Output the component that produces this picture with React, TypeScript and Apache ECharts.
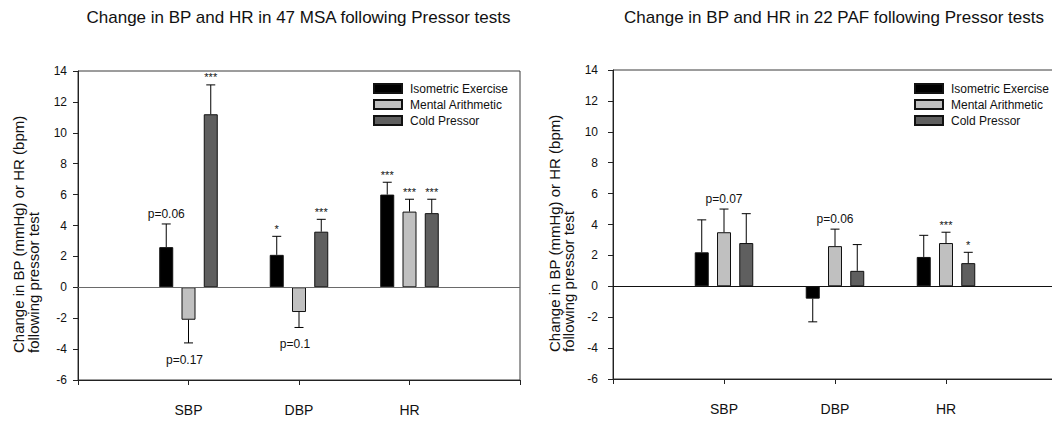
import React, { useEffect, useRef } from 'react';
import * as echarts from 'echarts';

// Measured variables and the three pressor tests
const groups = ['SBP', 'DBP', 'HR'];
const treatments = ['Isometric Exercise', 'Mental Arithmetic', 'Cold Pressor'];
const treatmentColors = ['#000000', '#c0c0c0', '#5f5f5f'];

// MSA cohort (n = 47): mean change and SEM per variable
const msaIsometricMean = [2.6, 2.1, 6.0];
const msaIsometricSem = [1.5, 1.2, 0.8];
const msaMentalMean = [-2.1, -1.6, 4.9];
const msaMentalSem = [1.5, 1.0, 0.8];
const msaColdMean = [11.2, 3.6, 4.8];
const msaColdSem = [1.9, 0.8, 0.9];
const msaIsometricSig = ['p=0.06', '*', '***'];
const msaMentalSig = ['p=0.17', 'p=0.1', '***'];
const msaColdSig = ['***', '***', '***'];

// PAF cohort (n = 22): mean change and SEM per variable
const pafIsometricMean = [2.2, -0.8, 1.9];
const pafIsometricSem = [2.1, 1.5, 1.4];
const pafMentalMean = [3.5, 2.6, 2.8];
const pafMentalSem = [1.5, 1.1, 0.7];
const pafColdMean = [2.8, 1.0, 1.5];
const pafColdSem = [1.9, 1.7, 0.7];
const pafIsometricSig = ['', '', ''];
const pafMentalSig = ['p=0.07', 'p=0.06', '***'];
const pafColdSig = ['', '', '*'];

// Y axis range and step
const yMin = -6;
const yMax = 14;
const yStep = 2;

const FONT = '"Liberation Sans", Arial, Helvetica, sans-serif';
const TEXT = '#111111';
const BAR_W = 14;
const BAR_GAP = 0.59;
const BAR_STEP = BAR_W * (1 + BAR_GAP);

const VIEW_W = 1052;
const VIEW_H = 421;

const yName = 'Change in BP (mmHg) or HR (bpm)\nfollowing pressor test';

// Each panel gets its own chart instance; the right one is wider than the
// visible page so its plot area runs past the edge and is cut off there.
const panels = [
  {
    title: 'Change in BP and HR in 47 MSA following Pressor tests',
    means: [msaIsometricMean, msaMentalMean, msaColdMean],
    sems: [msaIsometricSem, msaMentalSem, msaColdSem],
    sigs: [msaIsometricSig, msaMentalSig, msaColdSig],
    offsetX: 0,
    canvasWidth: 526,
    grid: { left: 78, top: 71, width: 442, height: 309 },
    titleX: 298.5,
    legendLeft: 373,
    nameX: 25.5,
    nameY: 353,
    nameLineHeight: 15,
    labelMargin: 11,
    zeroColor: '#6a6a6a',
  },
  {
    title: 'Change in BP and HR in 22 PAF following Pressor tests',
    means: [pafIsometricMean, pafMentalMean, pafColdMean],
    sems: [pafIsometricSem, pafMentalSem, pafColdSem],
    sigs: [pafIsometricSig, pafMentalSig, pafColdSig],
    offsetX: 526,
    canvasWidth: 620,
    grid: { left: 613, top: 70, width: 444, height: 309 },
    titleX: 834,
    legendLeft: 914,
    nameX: 561.5,
    nameY: 352,
    nameLineHeight: 14,
    labelMargin: 15,
    zeroColor: '#111111',
  },
];

type Panel = (typeof panels)[number];

function errorSeries(panel: Panel, k: number) {
  const means = panel.means[k];
  const sems = panel.sems[k];
  const sigs = panel.sigs[k];
  return {
    type: 'custom',
    z: 5,
    silent: true,
    clip: false,
    data: means.map((m, i) => [i + 1, m, sems[i]]),
    renderItem: (params: any, api: any) => {
      const i = params.dataIndex;
      const cat = api.value(0);
      const m = api.value(1);
      const s = api.value(2);
      const dir = m >= 0 ? 1 : -1;
      const base = api.coord([cat, m]);
      const tip = api.coord([cat, m + dir * s]);
      const x = base[0] + (k - 1) * BAR_STEP;
      const stroke = { stroke: '#000', lineWidth: 1 };
      const children: any[] = [
        { type: 'line', shape: { x1: x, y1: base[1], x2: x, y2: tip[1] }, style: stroke },
        { type: 'line', shape: { x1: x - 4.5, y1: tip[1], x2: x + 4.5, y2: tip[1] }, style: stroke },
      ];
      const sig = sigs[i];
      if (sig) {
        const isStar = sig.charAt(0) === '*';
        const y = dir > 0 ? tip[1] - (isStar ? 7.5 : 10) : tip[1] + 17;
        children.push({
          type: 'text',
          x: dir > 0 ? x : x - 4,
          y,
          style: {
            text: sig,
            fontSize: isStar ? 11 : 12,
            fontFamily: FONT,
            fill: TEXT,
            align: 'center',
            verticalAlign: 'middle',
          },
        });
      }
      return { type: 'group', children };
    },
  };
}

function buildOption(panel: Panel) {
  const dx = panel.offsetX;
  const series: any[] = [];
  treatments.forEach((name, k) => {
    series.push({
      type: 'bar',
      name,
      barWidth: BAR_W,
      barGap: `${BAR_GAP * 100}%`,
      data: ['-', ...panel.means[k], '-'],
      itemStyle: { color: treatmentColors[k], borderColor: '#111', borderWidth: 1 },
      markLine:
        k === 0
          ? {
              silent: true,
              symbol: ['none', 'none'],
              label: { show: false },
              lineStyle: { color: panel.zeroColor, width: 1, type: 'solid' },
              data: [{ yAxis: 0 }],
            }
          : undefined,
    });
  });
  treatments.forEach((_, k) => series.push(errorSeries(panel, k)));

  return {
    animation: false,
    backgroundColor: '#ffffff',
    textStyle: { fontFamily: FONT },
    grid: {
      ...panel.grid,
      left: panel.grid.left - dx,
      show: true,
      borderColor: '#3a3a3a',
      borderWidth: 1,
      backgroundColor: 'transparent',
      containLabel: false,
      outerBoundsMode: 'none',
    },
    xAxis: {
      type: 'category',
      data: ['', ...groups, ''],
      boundaryGap: false,
      axisLine: { onZero: false, lineStyle: { color: '#222', width: 1 } },
      axisTick: { show: true, length: 5, interval: 0, lineStyle: { color: '#222' } },
      axisLabel: { interval: 0, margin: 23, fontSize: 14, color: TEXT, fontFamily: FONT },
      splitLine: { show: false },
    },
    yAxis: {
      type: 'value',
      min: yMin,
      max: yMax,
      interval: yStep,
      axisLine: { show: true, lineStyle: { color: '#222', width: 1 } },
      axisTick: { show: true, length: 5, lineStyle: { color: '#222' } },
      axisLabel: { margin: panel.labelMargin, fontSize: 12, color: TEXT, fontFamily: FONT },
      splitLine: { show: false },
    },
    legend: {
      data: treatments,
      orient: 'vertical',
      left: panel.legendLeft - dx,
      top: 82.5,
      padding: 0,
      itemWidth: 28,
      itemHeight: 9,
      itemGap: 4,
      icon: 'rect',
      selectedMode: false,
      textStyle: { fontSize: 12, lineHeight: 12, color: TEXT, fontFamily: FONT, padding: [0, 0, 0, 3] },
    },
    graphic: [
      {
        type: 'text',
        x: panel.titleX - dx,
        y: 17,
        silent: true,
        style: {
          text: panel.title,
          fontSize: 17,
          fontFamily: FONT,
          fill: TEXT,
          align: 'center',
          verticalAlign: 'middle',
        },
      },
      {
        type: 'text',
        x: panel.nameX - dx,
        y: panel.nameY,
        rotation: Math.PI / 2,
        silent: true,
        style: {
          text: yName,
          fontSize: 15,
          lineHeight: panel.nameLineHeight,
          fontFamily: FONT,
          fill: TEXT,
          align: 'left',
          verticalAlign: 'middle',
        },
      },
    ],
    series,
  };
}

function PanelChart({ panel }: { panel: Panel }) {
  const ref = useRef<HTMLDivElement>(null);
  useEffect(() => {
    if (!ref.current) return;
    const chart = echarts.init(ref.current, null, { renderer: 'svg' });
    chart.setOption(buildOption(panel) as any);
    return () => chart.dispose();
  }, [panel]);
  return (
    <div
      ref={ref}
      style={{ position: 'absolute', left: panel.offsetX, top: 0, width: panel.canvasWidth, height: VIEW_H }}
    />
  );
}

export default function App() {
  return (
    <div
      style={{
        position: 'absolute',
        left: 0,
        top: 0,
        width: VIEW_W,
        height: VIEW_H,
        overflow: 'hidden',
        background: '#fff',
      }}
    >
      {panels.map((panel) => (
        <PanelChart key={panel.title} panel={panel} />
      ))}
    </div>
  );
}
